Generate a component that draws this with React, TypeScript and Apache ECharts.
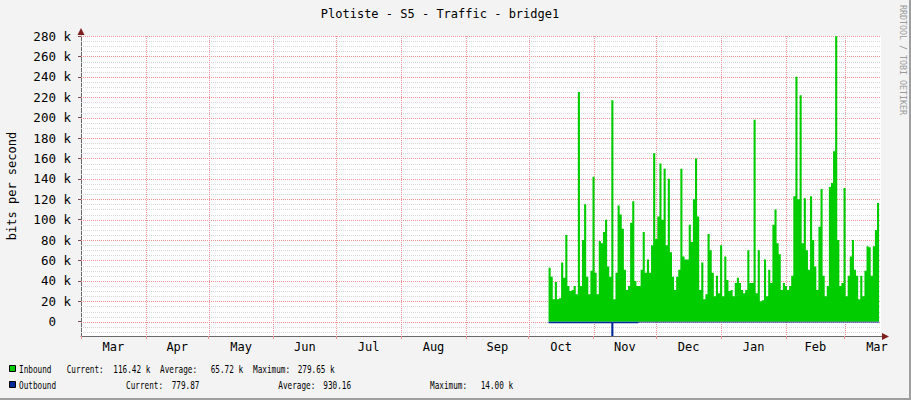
import { useEffect, useRef } from 'react';
import * as echarts from 'echarts';

const TITLE = 'Plotiste - S5 - Traffic - bridge1';
const Y_AXIS_NAME = 'bits per second';
const WATERMARK = 'RRDTOOL / TOBI OETIKER';
const RANGE_START = '2014-03-01T00:00:00Z';
const RANGE_END = '2015-03-18T10:00:00Z';
const FIRST_SAMPLE = '2014-10-10T12:00:00Z';
const DAY_MS = 86400000;

const monthBoundaries = [
  '2014-03-01', '2014-04-01', '2014-05-01', '2014-06-01', '2014-07-01',
  '2014-08-01', '2014-09-01', '2014-10-01', '2014-11-01', '2014-12-01',
  '2015-01-01', '2015-02-01', '2015-03-01', '2015-04-01',
];
const monthLabels = ['Mar', 'Apr', 'May', 'Jun', 'Jul', 'Aug', 'Sep', 'Oct', 'Nov', 'Dec', 'Jan', 'Feb', 'Mar'];

const yMajorTicks = [0, 20000, 40000, 60000, 80000, 100000, 120000, 140000, 160000, 180000, 200000, 220000, 240000, 260000, 280000];
const yTickLabels = ['0', '20 k', '40 k', '60 k', '80 k', '100 k', '120 k', '140 k', '160 k', '180 k', '200 k', '220 k', '240 k', '260 k', '280 k'];
const Y_MIN = -14000;
const Y_MAX = 280000;

// Inbound, kbit/s, one value per day from FIRST_SAMPLE
const inboundK = [
  31, 53, 44, 22, 39, 22, 23, 58, 43, 85,
  35, 30, 31, 35, 27, 225, 35, 80, 115, 44,
  27, 50, 142, 48, 27, 79, 77, 88, 100, 54,
  44, 217, 22, 48, 114, 105, 91, 51, 31, 35,
  97, 118, 40, 35, 35, 51, 88, 48, 61, 48,
  75, 165, 81, 103, 155, 100, 150, 75, 140, 68,
  44, 31, 44, 51, 150, 64, 61, 61, 95, 78,
  120, 160, 103, 31, 58, 22, 27, 86, 70, 48,
  25, 45, 28, 75, 25, 64, 41, 30, 31, 25,
  38, 43, 38, 31, 28, 31, 70, 38, 38, 198,
  28, 70, 20, 21, 61, 25, 51, 38, 95, 110,
  77, 66, 31, 38, 35, 31, 35, 45, 123, 240,
  120, 222, 77, 121, 70, 51, 123, 80, 54, 31,
  93, 130, 45, 25, 35, 132, 136, 167, 279.65, 80,
  35, 38, 131, 25, 45, 64, 80, 51, 45, 22,
  45, 25, 50, 74, 73, 45, 74, 90, 116.42,
];

// Outbound, bit/s, one value per day from FIRST_SAMPLE (drawn below zero)
const outboundBits = [
  1480, 1520, 1450, 1500, 1530, 1470, 1490, 1510, 1460, 1500,
  1540, 1480, 1500, 1450, 1520, 1490, 1470, 1510, 1500, 1460,
  1530, 1490, 1480, 1500, 1520, 1450, 1500, 1470, 1510, 1490,
  1480, 14000, 1500, 1520, 1460, 1490, 1510, 1480, 1500, 1470,
  1530, 1490, 1460, 1500,
  780, 770, 790, 785, 775, 780, 790, 770, 780, 785,
  775, 780, 790, 780, 770, 785, 780, 775, 790, 780,
  785, 770, 780, 790, 775, 780, 785, 780, 770, 790,
  780, 775, 785, 780, 790, 770, 780, 785, 775, 780,
  790, 780, 770, 785, 780, 775, 790, 780, 785, 770,
  780, 790, 775, 780, 785, 780, 770, 790, 780, 775,
  785, 780, 790, 770, 780, 785, 775, 780, 790, 780,
  785, 770, 780, 790, 775, 780, 785, 780, 770, 790,
  780, 775, 785, 780, 790, 770, 780, 785, 775, 780,
  790, 780, 770, 785, 780, 775, 790, 780, 785, 770,
  780, 790, 775, 780, 785, 780, 770, 790, 780, 775,
  785, 780, 790, 775, 779.87,
];

const inboundStats = ['116.42 k', '65.72 k', '279.65 k'];
const outboundStats = ['779.87', '930.16', '14.00 k'];

const GREEN = '#00CC00';
const BLUE = '#002A97';
const MONO = '"DejaVu Sans Mono", monospace';
const MGRID = '#EB9595';
const GRID = '#D6D6D6';

const ts = (s: string) => new Date(s.length === 10 ? s + 'T00:00:00Z' : s).getTime();

export default function App() {
  const ref = useRef<HTMLDivElement>(null);
  useEffect(() => {
    document.body.style.margin = '0';
    if (!ref.current) return;
    const chart = echarts.init(ref.current, undefined, { renderer: 'svg' });

    const xMin = ts(RANGE_START);
    const xMax = ts(RANGE_END);
    const t0 = ts(FIRST_SAMPLE);
    const monthTs = monthBoundaries.map(ts);
    const monthStarts = monthTs.slice(0, 13);
    const monthMids = monthLabels.map((_, i) => (monthTs[i] + monthTs[i + 1]) / 2);

    const inData = inboundK.map((v, i) => [t0 + i * DAY_MS, v * 1000]);
    const outData = outboundBits.map((v, i) => [t0 + i * DAY_MS, -v]);

    // grid line items: [x, y, kind]  kind 0 = minor horizontal, 1 = major horizontal, 2 = major vertical
    const gridItems: number[][] = [];
    for (let v = -10000; v < Y_MAX; v += 5000) {
      if (v % 20000 !== 0) gridItems.push([xMin, v, 0]);
    }
    yMajorTicks.forEach((v) => gridItems.push([xMin, v, 1]));
    monthStarts.slice(1).forEach((t) => gridItems.push([t, Y_MIN, 2]));

    const legendText = (text: string, x: number, y: number) => ({
      type: 'text',
      x,
      y,
      scaleX: 0.7,
      silent: true,
      style: { text, fill: '#000', fontFamily: MONO, fontSize: 11, textAlign: 'left', textVerticalAlign: 'middle' },
    });

    chart.setOption({
      animation: false,
      backgroundColor: '#F3F3F3',
      grid: {
        left: 81, top: 36, width: 800, height: 300,
        show: true, backgroundColor: '#FFFFFF', borderWidth: 0,
        containLabel: false, outerBoundsMode: 'none',
      },
      xAxis: {
        type: 'value',
        min: xMin,
        max: xMax,
        axisLine: { show: true, onZero: false, lineStyle: { color: '#6a6a6a', width: 1 } },
        axisTick: { show: true, customValues: monthStarts, length: 3, lineStyle: { color: MGRID } },
        axisLabel: {
          customValues: monthMids,
          margin: 5,
          color: '#000',
          fontFamily: MONO,
          fontSize: 12,
          formatter: (v: number) => {
            const idx = monthMids.findIndex((m) => Math.abs(m - v) < 1000);
            return idx >= 0 ? monthLabels[idx] : '';
          },
        },
        splitLine: { show: false },
      },
      yAxis: {
        type: 'value',
        min: Y_MIN,
        max: Y_MAX,
        name: Y_AXIS_NAME,
        nameLocation: 'middle',
        nameGap: 63,
        nameRotate: 90,
        nameTextStyle: { fontFamily: MONO, fontSize: 12, color: '#000' },
        axisLine: { show: true, onZero: false, lineStyle: { color: '#6a6a6a', width: 1 } },
        axisTick: { show: true, customValues: yMajorTicks, length: 3, lineStyle: { color: '#7a4a4a' } },
        axisLabel: {
          customValues: yMajorTicks,
          margin: 10,
          color: '#000',
          fontFamily: MONO,
          fontSize: 12.5,
          formatter: (v: number) => {
            const idx = yMajorTicks.indexOf(v);
            if (idx < 0) return '';
            return v === 0 ? '{z|' + yTickLabels[idx] + '}' : yTickLabels[idx];
          },
          rich: { z: { fontFamily: MONO, fontSize: 12.5, color: '#000', padding: [0, 15, 0, 0] } },
        },
        splitLine: { show: false },
      },
      series: [
        {
          type: 'custom',
          name: 'grid',
          silent: true,
          clip: false,
          z: 1,
          data: gridItems,
          renderItem: (params: any, api: any) => {
            const cs = params.coordSys;
            const kind = api.value(2);
            const p = api.coord([api.value(0), api.value(1)]);
            if (kind === 2) {
              const x = Math.round(p[0]) + 0.5;
              return {
                type: 'line',
                shape: { x1: x, y1: cs.y, x2: x, y2: cs.y + cs.height },
                style: { stroke: MGRID, lineWidth: 1, lineDash: [1, 1] },
              };
            }
            const y = Math.round(p[1]) + 0.5;
            return {
              type: 'line',
              shape: { x1: cs.x, y1: y, x2: cs.x + cs.width, y2: y },
              style: { stroke: kind === 1 ? MGRID : GRID, lineWidth: 1, lineDash: [1, 1] },
            };
          },
        },
        {
          type: 'line',
          name: 'Inbound',
          data: inData,
          step: 'start',
          showSymbol: false,
          silent: true,
          z: 3,
          lineStyle: { width: 0, color: GREEN },
          areaStyle: { color: GREEN, opacity: 1 },
        },
        {
          type: 'line',
          name: 'Outbound',
          data: outData,
          step: 'start',
          showSymbol: false,
          silent: true,
          z: 3,
          lineStyle: { width: 0, color: BLUE },
          areaStyle: { color: BLUE, opacity: 1 },
        },
      ],
      graphic: [
        { type: 'rect', silent: true, shape: { x: 909, y: 0, width: 2, height: 400 }, style: { fill: '#9E9E9E' } },
        { type: 'rect', silent: true, shape: { x: 0, y: 398, width: 911, height: 2 }, style: { fill: '#9E9E9E' } },
        {
          type: 'text', x: 440, y: 14, silent: true,
          style: { text: TITLE, fill: '#000', fontFamily: MONO, fontSize: 12, textAlign: 'center', textVerticalAlign: 'middle' },
        },
        {
          type: 'text', x: 903, y: 5, rotation: -Math.PI / 2, silent: true,
          style: { text: WATERMARK, fill: '#9a9a9a', fontFamily: MONO, fontSize: 8.3, textAlign: 'left', textVerticalAlign: 'middle' },
        },
        { type: 'polygon', silent: true, shape: { points: [[81, 28], [77.5, 35], [84.5, 35]] }, style: { fill: '#801F1F' } },
        { type: 'line', silent: true, shape: { x1: 881, y1: 336.5, x2: 884, y2: 336.5 }, style: { stroke: '#6a6a6a', lineWidth: 1 } },
        { type: 'polygon', silent: true, shape: { points: [[889, 336.5], [882, 333], [882, 340]] }, style: { fill: '#801F1F' } },
        { type: 'rect', silent: true, shape: { x: 9.5, y: 365.5, width: 6, height: 6 }, style: { fill: GREEN, stroke: '#000', lineWidth: 1 } },
        { type: 'rect', silent: true, shape: { x: 9.5, y: 381.5, width: 6, height: 6 }, style: { fill: BLUE, stroke: '#000', lineWidth: 1 } },
        legendText('Inbound', 19, 369),
        legendText('Current:', 66.7, 369),
        legendText(inboundStats[0], 113.3, 369),
        legendText('Average:', 160, 369),
        legendText(inboundStats[1], 210.7, 369),
        legendText('Maximum:', 253, 369),
        legendText(inboundStats[2], 297.7, 369),
        legendText('Outbound', 19, 385),
        legendText('Current:', 126, 385),
        legendText(outboundStats[0], 171.7, 385),
        legendText('Average:', 278.3, 385),
        legendText(outboundStats[1], 323.3, 385),
        legendText('Maximum:', 430, 385),
        legendText(outboundStats[2], 480.7, 385),
      ],
    });
    return () => chart.dispose();
  }, []);
  return <div ref={ref} style={{ width: 911, height: 400 }} />;
}
